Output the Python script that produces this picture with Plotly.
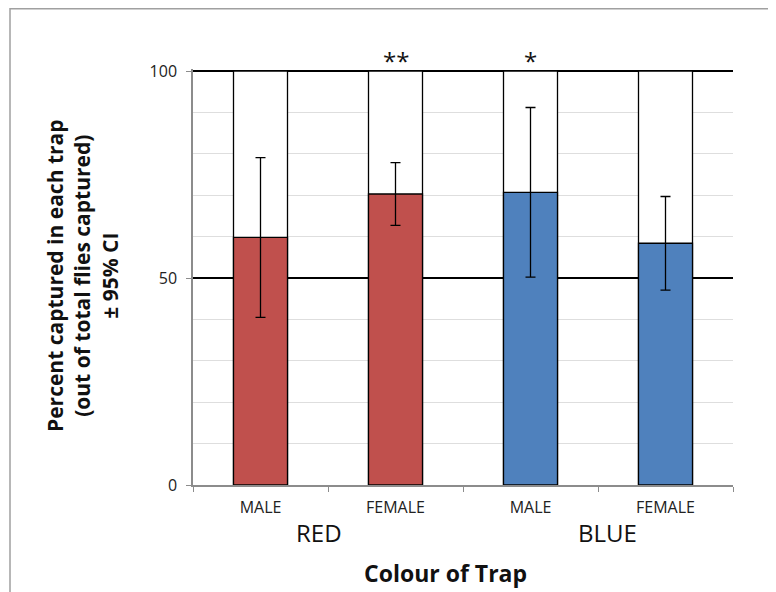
import plotly.graph_objects as go

# ---- data ----
categories = ["RED MALE", "RED FEMALE", "BLUE MALE", "BLUE FEMALE"]
tick_labels = ["MALE", "FEMALE", "MALE", "FEMALE"]
group_labels = ["RED", "BLUE"]
percent_captured = [59.8, 70.3, 70.7, 58.4]
ci_95 = [19.3, 7.6, 20.5, 11.3]
total_pct = [100, 100, 100, 100]
bar_colors = ["#C0504D", "#C0504D", "#4F81BD", "#4F81BD"]
significance = ["", "**", "*", ""]
y_ticks = [0, 50, 100]

FONT = "Open Sans"
AXIS_GRAY = "#8c8c8c"

# page body has an 8px margin, so the figure is 8px smaller than the window
W, H = 768, 584
ML, MR, MT, MB = 185, 43, 61, 107
PW = W - ML - MR          # 540
PH = H - MT - MB          # 416
YMAX = 100.5

fig = go.Figure()
fig.add_trace(go.Bar(
    x=categories, y=total_pct, width=0.4, opacity=1,
    marker=dict(color="white", line=dict(color="black", width=1.3)),
    hoverinfo="skip", showlegend=False))
fig.add_trace(go.Bar(
    x=categories, y=percent_captured, width=0.4, opacity=1,
    marker=dict(color=bar_colors, line=dict(color="black", width=1.3)),
    error_y=dict(type="data", array=ci_95, color="black", thickness=1.3, width=5),
    showlegend=False))

def py(px_from_top):
    """paper y for a pixel row in figure coordinates"""
    return 1 - (px_from_top - MT) / PH

def px(px_from_left):
    return (px_from_left - ML) / PW

annotations = []
for cat, s in zip(categories, significance):
    if s:
        annotations.append(dict(x=cat, y=100, xref="x", yref="y", text=s, showarrow=False,
                                yanchor="bottom", yshift=-8,
                                font=dict(family=FONT, size=24, color="#111")))
for gx, g in zip([311, 599], group_labels):
    annotations.append(dict(x=px(gx), y=py(524), xref="paper", yref="paper", text=g, showarrow=False,
                            xanchor="center", yanchor="middle",
                            font=dict(family=FONT, size=24, color="#111")))
annotations.append(dict(x=px(437), y=py(565), xref="paper", yref="paper", text="<b>Colour of Trap</b>",
                        showarrow=False, xanchor="center", yanchor="middle",
                        font=dict(family=FONT, size=23, color="#111")))
annotations.append(dict(x=px(74), y=py(268), xref="paper", yref="paper",
                        text="<b>Percent captured in each trap<br>(out of total flies captured)<br>± 95% CI</b>",
                        showarrow=False, textangle=-90, xanchor="center", yanchor="middle", align="center",
                        font=dict(family=FONT, size=21, color="#111")))

fig.update_layout(
    width=W, height=H,
    margin=dict(l=ML, r=MR, t=MT, b=MB),
    paper_bgcolor="white", plot_bgcolor="white",
    barmode="overlay",
    annotations=annotations,
    shapes=[dict(type="rect", xref="paper", yref="paper",
                 x0=px(2), x1=2.0, y0=-2.0, y1=py(0.8),
                 line=dict(color="#a0a0a0", width=1.5), fillcolor="rgba(0,0,0,0)", layer="below")],
    xaxis=dict(type="category", range=[-0.5, 3.5], tickmode="array", tickvals=categories, ticktext=tick_labels,
               tickson="boundaries", ticks="outside", ticklen=5, tickcolor=AXIS_GRAY, tickwidth=1.2,
               showline=True, linecolor=AXIS_GRAY, linewidth=1.5, showgrid=False, zeroline=False,
               tickfont=dict(family=FONT, size=16, color="#222"), ticklabelstandoff=7),
    yaxis=dict(range=[0, YMAX], tickmode="array", tickvals=y_ticks, ticks="outside", ticklen=5,
               tickcolor=AXIS_GRAY, tickwidth=1.2, showline=True, linecolor=AXIS_GRAY, linewidth=1.5,
               showgrid=True, gridcolor="black", gridwidth=1.5, zeroline=False,
               minor=dict(dtick=10, tick0=0, showgrid=True, gridcolor="#dedede", gridwidth=1.2, ticks=""),
               tickfont=dict(family=FONT, size=16, color="#222"), ticklabelstandoff=6),
)

fig.write_html("out.html")
